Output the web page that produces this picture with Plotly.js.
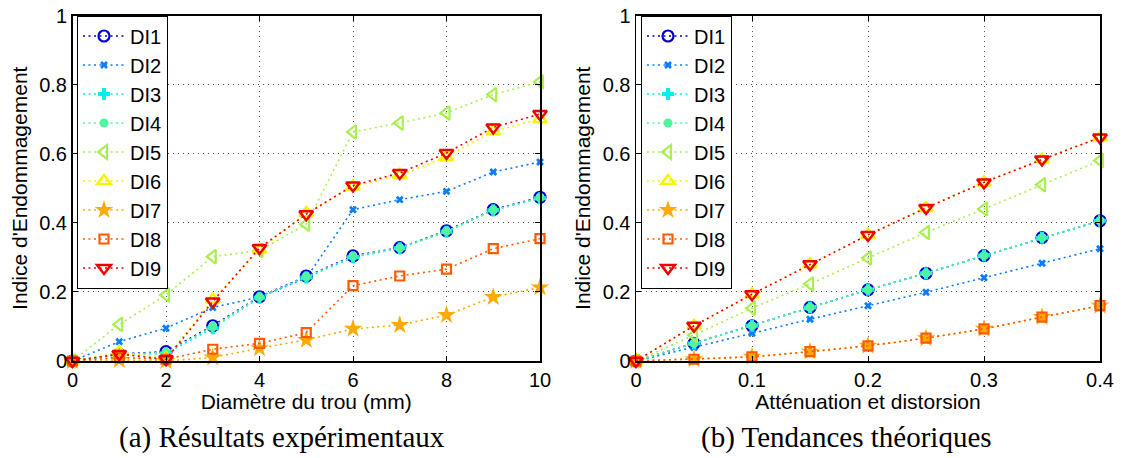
<!DOCTYPE html>
<html><head><meta charset="utf-8">
<script src="https://cdn.plot.ly/plotly-3.0.1.min.js"></script>
<style>body{margin:0;padding:0;background:#fff}#chart{width:1125px;height:458px}</style>
</head><body><div id="chart"></div>
<script>
// ---- data ----
const seriesNames = ["DI1","DI2","DI3","DI4","DI5","DI6","DI7","DI8","DI9"];
const xExp = [0,1,2,3,4,5,6,7,8,9,10];
const expDI1 = [0,0.02,0.027,0.102,0.186,0.246,0.304,0.328,0.377,0.438,0.474];
const expDI2 = [0,0.056,0.095,0.155,0.185,0.24,0.438,0.467,0.491,0.547,0.576];
const expDI3 = [0,0.018,0.022,0.095,0.183,0.242,0.300,0.326,0.374,0.436,0.471];
const expDI4 = [0,0.019,0.025,0.099,0.185,0.244,0.302,0.327,0.376,0.437,0.472];
const expDI5 = [0,0.106,0.191,0.302,0.32,0.396,0.663,0.689,0.718,0.771,0.808];
const expDI6 = [0,0.025,0.008,0.178,0.322,0.428,0.505,0.538,0.590,0.665,0.700];
const expDI7 = [0,0.003,0.0,0.01,0.037,0.061,0.093,0.104,0.133,0.185,0.213];
const expDI8 = [0,0.01,0.005,0.034,0.051,0.082,0.218,0.246,0.266,0.325,0.354];
const expDI9 = [0,0.02,0.005,0.172,0.327,0.425,0.508,0.544,0.602,0.676,0.715];
const xTh = [0,0.05,0.1,0.15,0.2,0.25,0.3,0.35,0.4];
const thDI1 = [0,0.051,0.102,0.155,0.206,0.254,0.305,0.357,0.406];
const thDI2 = [0,0.039,0.080,0.121,0.160,0.199,0.241,0.283,0.325];
const thDI3 = [0,0.051,0.102,0.155,0.206,0.254,0.305,0.357,0.406];
const thDI4 = [0,0.051,0.102,0.155,0.206,0.254,0.305,0.357,0.406];
const thDI5 = [0,0.075,0.153,0.223,0.298,0.372,0.440,0.510,0.580];
const thDI6 = [0,0.102,0.193,0.280,0.365,0.443,0.517,0.583,0.647];
const thDI7 = [0,0.005,0.012,0.027,0.044,0.066,0.093,0.127,0.160];
const thDI8 = [0,0.005,0.012,0.027,0.044,0.066,0.093,0.127,0.160];
const thDI9 = [0,0.102,0.193,0.280,0.365,0.443,0.517,0.583,0.647];
const yTicks = [0,0.2,0.4,0.6,0.8,1];
const yTickText = ["0","0.2","0.4","0.6","0.8","1"];
const xExpTicks = [0,2,4,6,8,10];
const xThTicks = [0,0.1,0.2,0.3,0.4];
const xThTickText = ["0","0.1","0.2","0.3","0.4"];

// ---- styles ----
const colors = ["#0000c8","#0a7cff","#00f0f0","#50f5a0","#a8f050","#f5f500","#ffaa00","#ff5a00","#f00000"];
const symbols = ["circle-open","x","cross","circle","triangle-left-open","triangle-up-open","star","square-open","triangle-down-open"];
const msizes = [11,7,10,9,12,12,14,9,12];
const mlw = [2.2,0,0,0,2.2,2.5,0,2.2,2.5];

const expData = [expDI1,expDI2,expDI3,expDI4,expDI5,expDI6,expDI7,expDI8,expDI9];
const thData = [thDI1,thDI2,thDI3,thDI4,thDI5,thDI6,thDI7,thDI8,thDI9];

const traces = [];
function mk(x, y, i, xa, ya, leg, grp){
  return {x:x, y:y, type:'scatter', mode:'lines+markers', name:seriesNames[i],
    xaxis:xa, yaxis:ya, legend:leg, legendgroup:grp+i,
    line:{color:colors[i], dash:'2px,3.5px', width:1.6},
    marker:{symbol:symbols[i], size:msizes[i], color:colors[i], line:{color:colors[i], width:mlw[i]}},
    cliponaxis:false};
}
for(let i=0;i<9;i++) traces.push(mk(xExp, expData[i], i, 'x','y','legend','a'));
for(let i=0;i<9;i++) traces.push(mk(xTh, thData[i], i, 'x2','y2','legend2','b'));

const fontF = "Liberation Sans, Arial, sans-serif";
const axBase = {showline:true, linecolor:'#000', linewidth:1.5, mirror:'ticks', ticks:'inside', ticklen:5, tickcolor:'#000',
  showgrid:true, gridcolor:'#555', griddash:'1px,4px', gridwidth:1, zeroline:false,
  tickfont:{family:fontF, size:20, color:'#000'}};
const legBase = {bgcolor:'#fff', bordercolor:'#000', borderwidth:1, font:{family:fontF, size:20, color:'#000'},
  traceorder:'grouped', tracegroupgap:0, xanchor:'left', yanchor:'top', itemwidth:42};
const titleFont = {family:fontF, size:21, color:'#000'};

const H=458, W=1125;
const yDom = [(H-361)/H, (H-15.5)/H];
const capFont = {family:'Liberation Serif, DejaVu Serif, serif', size:29, color:'#000'};
const layout = {
  width:W, height:H, margin:{l:0,r:0,t:0,b:0}, paper_bgcolor:'#fff', plot_bgcolor:'#fff', showlegend:true,
  xaxis:Object.assign({}, axBase, {domain:[72.5/W, 540/W], range:[0,10], tickvals:xExpTicks, anchor:'y',
    title:{text:'Diamètre du trou (mm)', font:titleFont, standoff:1}}),
  yaxis:Object.assign({}, axBase, {domain:yDom, range:[0,1], tickvals:yTicks, ticktext:yTickText, anchor:'x',
    title:{text:"Indice d'Endommagement", font:titleFont, standoff:6}}),
  xaxis2:Object.assign({}, axBase, {domain:[636/W, 1100/W], range:[0,0.4], tickvals:xThTicks, ticktext:xThTickText, anchor:'y2',
    title:{text:'Atténuation et distorsion', font:titleFont, standoff:1}}),
  yaxis2:Object.assign({}, axBase, {domain:yDom, range:[0,1], tickvals:yTicks, ticktext:yTickText, anchor:'x2',
    title:{text:"Indice d'Endommagement", font:titleFont, standoff:6}}),
  legend:Object.assign({}, legBase, {x:77/W, y:(H-15.5)/H}),
  legend2:Object.assign({}, legBase, {x:641/W, y:(H-15.5)/H}),
  annotations:[
    {text:'(a) Résultats expérimentaux', x:282/W, y:(H-437)/H, xref:'paper', yref:'paper', xanchor:'center', yanchor:'middle',
      showarrow:false, font:capFont},
    {text:'(b) Tendances théoriques', x:846/W, y:(H-437)/H, xref:'paper', yref:'paper', xanchor:'center', yanchor:'middle',
      showarrow:false, font:capFont}
  ]
};
Plotly.newPlot('chart', traces, layout, {displayModeBar:false, staticPlot:true});
</script></body></html>
